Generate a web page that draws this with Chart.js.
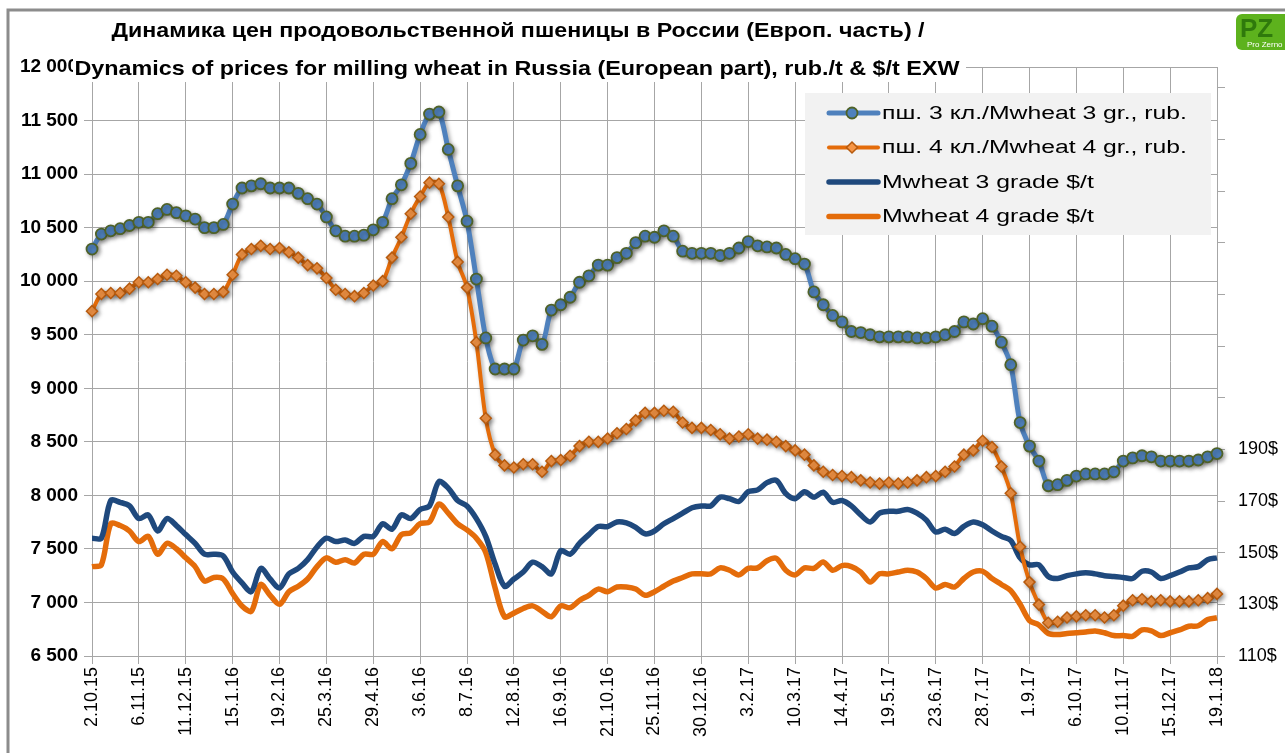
<!DOCTYPE html>
<html>
<head>
<meta charset="utf-8">
<script src="https://cdn.jsdelivr.net/npm/chart.js@4.4.0/dist/chart.umd.min.js"></script>
<style>
  html, body { margin: 0; padding: 0; background: #fff; }
  #wrap { position: relative; width: 1285px; height: 753px; }
</style>
</head>
<body>
<div id="wrap"><canvas id="wheat-chart" width="1285" height="753"></canvas></div>
<script>
// Weekly quotes, first week 2.10.15
const weekCount = 121;
const labelStep = 5;
const weeks = [];
for (let i = 0; i < weekCount; i++) {
    const d = new Date(2015, 9, 2 + 7 * i);
    weeks.push(d.getDate() + '.' + (d.getMonth() + 1) + '.' + String(d.getFullYear()).slice(2));
}

// rub./t
const rub3 = [
    10300,10440,10470,10490,10520,10550,10550,10630,10670,10640,
    10610,10580,10500,10500,10530,10720,10870,10890,10910,10870,
    10870,10870,10820,10770,10720,10600,10470,10420,10420,10430,
    10480,10550,10770,10900,11100,11370,11560,11580,11230,10890,
    10560,10020,9470,9180,9180,9180,9450,9490,9410,9730,
    9780,9850,9990,10050,10150,10150,10220,10260,10360,10420,
    10410,10470,10420,10280,10260,10260,10260,10240,10260,10310,
    10370,10330,10320,10310,10250,10210,10160,9900,9780,9680,
    9620,9530,9520,9500,9480,9480,9480,9480,9470,9470,
    9480,9500,9530,9620,9600,9650,9580,9430,9220,8680,
    8460,8320,8090,8100,8140,8180,8200,8200,8200,8220,
    8320,8350,8370,8360,8320,8320,8320,8320,8330,8360,8390
];
const rub4 = [
    9720,9880,9890,9890,9930,9990,9990,10020,10060,10050,
    9990,9940,9880,9880,9900,10060,10250,10300,10330,10300,
    10310,10270,10220,10150,10120,10030,9920,9880,9860,9890,
    9960,10000,10220,10410,10630,10790,10920,10910,10600,10180,
    9940,9430,8720,8380,8280,8260,8290,8290,8220,8320,
    8330,8370,8460,8500,8500,8530,8580,8620,8700,8770,
    8770,8790,8780,8680,8630,8630,8610,8570,8530,8550,
    8570,8530,8520,8500,8460,8420,8380,8280,8220,8190,
    8180,8170,8140,8120,8110,8120,8110,8120,8140,8170,
    8180,8220,8270,8380,8420,8510,8450,8270,8020,7520,
    7190,6980,6810,6820,6860,6870,6880,6880,6860,6880,
    6970,7020,7030,7010,7020,7010,7010,7010,7020,7040,7080
];

// $/t
const usd3 = [
    155.6,155.6,170.2,169.5,168.1,163.2,164.6,158.4,163.2,160.5,
    157.0,153.6,149.4,149.4,148.7,142.5,138.3,134.9,143.9,139.8,
    136.3,141.8,143.9,147.3,152.2,155.6,154.3,154.9,153.6,156.3,
    156.3,161.2,159.1,164.6,163.2,166.7,168.1,177.5,175.0,170.2,
    168.1,163.2,156.3,145.6,137.0,139.8,142.5,146.3,144.6,141.8,
    150.8,149.4,153.6,157.0,160.1,160.1,161.9,161.5,159.8,157.3,
    158.4,161.2,163.2,165.3,167.4,168.1,168.1,171.5,170.9,169.8,
    173.6,174.3,177.1,178.0,172.9,170.9,173.6,171.5,173.4,169.5,
    170.2,168.1,164.6,161.9,165.3,166.0,166.0,166.7,165.3,162.6,
    158.0,159.1,157.4,160.2,161.9,160.8,158.4,156.3,154.7,148.0,
    145.3,145.3,140.8,140.0,141.1,141.8,142.2,141.8,141.1,140.8,
    140.4,140.0,142.8,142.5,140.0,141.1,142.5,144.1,144.6,147.3,148.0
];
const usd4 = [
    144.6,145.3,161.2,160.5,158.4,154.3,156.3,149.4,153.6,151.5,
    148.0,144.6,139.0,140.4,139.8,134.2,129.4,127.3,137.7,133.5,
    130.0,134.9,137.0,139.8,144.6,148.0,146.3,147.3,146.0,149.4,
    149.4,154.3,151.5,157.0,157.7,161.2,161.9,168.8,165.3,161.2,
    158.8,155.6,150.1,136.3,125.2,126.6,128.4,129.4,127.3,125.2,
    129.4,128.7,131.5,133.5,135.9,134.9,136.7,136.7,135.9,133.5,
    134.9,137.0,139.0,140.4,141.8,141.8,141.8,144.1,143.2,141.4,
    143.9,144.1,146.9,147.8,143.2,141.4,144.1,143.9,146.4,143.2,
    145.0,144.6,142.5,138.6,141.8,141.8,142.5,143.2,142.5,140.0,
    136.3,137.7,136.7,140.0,142.5,142.8,140.0,137.7,135.3,130.0,
    123.7,122.0,118.7,118.3,118.7,119.0,119.3,119.7,119.0,117.9,
    117.9,117.6,120.1,119.7,117.9,119.0,120.1,121.5,121.7,124.1,124.8
];

// right axis ticks ($), only the lower ones carry labels
const usdTicks = [110, 130, 150, 170, 190, 210, 230, 250, 270, 290, 310, 330];
const usdLabelMax = 190;

const titleLines = [
    'Динамика цен продовольственной пшеницы в России (Европ. часть) /',
    'Dynamics of prices for milling wheat in Russia (European part), rub./t & $/t EXW'
];
const seriesNames = [
    'пш. 3 кл./Mwheat 3 gr., rub.',
    'пш. 4 кл./Mwheat 4 gr., rub.',
    'Mwheat 3 grade $/t',
    'Mwheat 4 grade $/t'
];

const gridGray = '#a6a6a6';
const fontFamily = '"Liberation Sans", Arial, sans-serif';

// draw text squeezed/stretched to a given width
function fitText(ctx, text, x, y, width) {
    const natural = ctx.measureText(text).width;
    ctx.save();
    ctx.translate(x, y);
    ctx.scale(width / natural, 1);
    ctx.fillText(text, 0, 0);
    ctx.restore();
}

// Plugins

const whiteBack = {
    id: 'whiteBack',
    beforeDraw(chart) {
        const ctx = chart.ctx;
        ctx.save();
        ctx.fillStyle = '#fff';
        ctx.fillRect(0, 0, chart.width, chart.height);
        ctx.restore();
    }
};

const markerShadow = {
    id: 'markerShadow',
    beforeDatasetDraw(chart, args) {
        if (args.index > 1) return;
        const ctx = chart.ctx;
        ctx.save();
        ctx.shadowColor = 'rgba(0,0,0,0.35)';
        ctx.shadowBlur = 4;
        ctx.shadowOffsetX = 2;
        ctx.shadowOffsetY = 2;
    },
    afterDatasetDraw(chart, args) {
        if (args.index > 1) return;
        chart.ctx.restore();
    }
};

const legendBox = {
    id: 'legendBox',
    afterDraw(chart) {
        const ctx = chart.ctx;
        ctx.save();
        ctx.fillStyle = '#f2f2f2';
        ctx.fillRect(805, 93, 406, 142);
        ctx.font = '18px ' + fontFamily;
        const sx = 305 / ctx.measureText(seriesNames[0]).width;
        chart.data.datasets.forEach((ds, i) => {
            const y = 113 + i * 34.5;
            ctx.strokeStyle = ds.borderColor;
            ctx.lineWidth = ds.borderWidth;
            ctx.lineCap = 'round';
            ctx.beginPath();
            ctx.moveTo(829, y);
            ctx.lineTo(878, y);
            ctx.stroke();
            if (ds.pointRadius > 0) {
                ctx.fillStyle = ds.pointBackgroundColor;
                ctx.strokeStyle = ds.pointBorderColor;
                ctx.lineWidth = ds.pointBorderWidth;
                const r = ds.pointRadius;
                ctx.beginPath();
                if (ds.pointStyle === 'circle') {
                    ctx.arc(852, y, r, 0, Math.PI * 2);
                } else {
                    ctx.moveTo(852, y - r);
                    ctx.lineTo(852 + r, y);
                    ctx.lineTo(852, y + r);
                    ctx.lineTo(852 - r, y);
                    ctx.closePath();
                }
                ctx.fill();
                ctx.stroke();
            }
            ctx.fillStyle = '#000';
            ctx.textAlign = 'left';
            ctx.textBaseline = 'middle';
            ctx.save();
            ctx.translate(882, y + 1);
            ctx.scale(sx, 1);
            ctx.fillText(ds.label, 0, 0);
            ctx.restore();
        });
        ctx.restore();
    }
};

const titleBlock = {
    id: 'titleBlock',
    afterDraw(chart) {
        const ctx = chart.ctx;
        ctx.save();
        ctx.fillStyle = '#fff';
        ctx.fillRect(73, 13, 893, 69);
        ctx.fillStyle = '#000';
        ctx.font = 'bold 21px ' + fontFamily;
        ctx.textAlign = 'center';
        ctx.textBaseline = 'middle';
        fitText(ctx, titleLines[0], 518, 31, 813);
        fitText(ctx, titleLines[1], 517, 69, 885);

        // outer frame
        ctx.strokeStyle = '#8c8c8c';
        ctx.lineWidth = 3;
        ctx.beginPath();
        ctx.moveTo(8, 753);
        ctx.lineTo(8, 10);
        ctx.lineTo(1285, 10);
        ctx.stroke();

        // logo
        ctx.fillStyle = '#5db21d';
        ctx.beginPath();
        ctx.roundRect(1236, 14, 60, 36, 6);
        ctx.fill();
        ctx.fillStyle = '#2f7a0c';
        ctx.font = 'bold 26px ' + fontFamily;
        ctx.textAlign = 'left';
        ctx.fillText('PZ', 1240, 30);
        ctx.fillStyle = '#fff';
        ctx.font = '8px ' + fontFamily;
        ctx.fillText('Pro Zerno', 1247, 45);
        ctx.restore();
    }
};

// Chart

const wheatCanvas = document.getElementById('wheat-chart');

const wheatData = {
    labels: weeks,
    datasets: [{
        label: seriesNames[0],
        data: rub3,
        yAxisID: 'y',
        borderColor: '#4F81BD',
        borderWidth: 5,
        pointStyle: 'circle',
        pointRadius: 5.5,
        pointBackgroundColor: '#4F81BD',
        pointBorderColor: '#4F6228',
        pointBorderWidth: 1.8,
        tension: 0.3,
        clip: false
    }, {
        label: seriesNames[1],
        data: rub4,
        yAxisID: 'y',
        borderColor: '#E46C0A',
        borderWidth: 4,
        pointStyle: 'rectRot',
        pointRadius: 5.5,
        pointBackgroundColor: '#F79646',
        pointBorderColor: '#B65A0E',
        pointBorderWidth: 1.5,
        tension: 0.3,
        clip: false
    }, {
        label: seriesNames[2],
        data: usd3,
        yAxisID: 'y1',
        borderColor: '#1F497D',
        borderWidth: 5.5,
        pointRadius: 0,
        pointHoverRadius: 0,
        tension: 0.3,
        clip: false
    }, {
        label: seriesNames[3],
        data: usd4,
        yAxisID: 'y1',
        borderColor: '#E46C0A',
        borderWidth: 5.5,
        pointRadius: 0,
        pointHoverRadius: 0,
        tension: 0.3,
        clip: false
    }]
};

const wheatOptions = {
    responsive: false,
    animation: false,
    layout: {
        padding: { top: 67, left: 0, right: 0, bottom: 0 }
    },
    plugins: {
        legend: { display: false },
        tooltip: { enabled: false },
        title: { display: false }
    },
    scales: {
        x: {
            type: 'category',
            offset: false,
            grid: {
                color: c => (c.index % labelStep === 0 ? gridGray : 'rgba(0,0,0,0)'),
                tickLength: 8
            },
            border: { color: gridGray },
            ticks: {
                autoSkip: false,
                maxRotation: 90,
                minRotation: 90,
                padding: 3,
                color: '#000',
                font: { family: fontFamily, size: 18 },
                callback: function (v, i) {
                    return i % labelStep === 0 ? this.getLabelForValue(v) : '';
                }
            },
            afterFit: s => { s.height = 97; }
        },
        y: {
            position: 'left',
            min: 6500,
            max: 12000,
            grid: { color: gridGray, tickLength: 8 },
            border: { color: gridGray },
            ticks: {
                stepSize: 500,
                padding: 6,
                color: '#000',
                font: { family: fontFamily, size: 19, weight: 'bold' },
                callback: v => String(v).replace(/\B(?=(\d{3})+$)/g, ' ')
            },
            afterFit: s => { s.width = 92; }
        },
        y1: {
            position: 'right',
            min: 110,
            max: 338,
            grid: { drawOnChartArea: false, color: gridGray, tickLength: 8 },
            border: { color: gridGray },
            afterBuildTicks: s => { s.ticks = usdTicks.map(v => ({ value: v })); },
            ticks: {
                padding: 13,
                color: '#000',
                font: { family: fontFamily, size: 18 },
                callback: v => (v <= usdLabelMax ? v + '$' : '')
            },
            afterFit: s => { s.width = 68; }
        }
    }
};

let wheatChart = new Chart(wheatCanvas, {
    type: 'line',
    data: wheatData,
    options: wheatOptions,
    plugins: [whiteBack, markerShadow, legendBox, titleBlock]
});
</script>
</body>
</html>
